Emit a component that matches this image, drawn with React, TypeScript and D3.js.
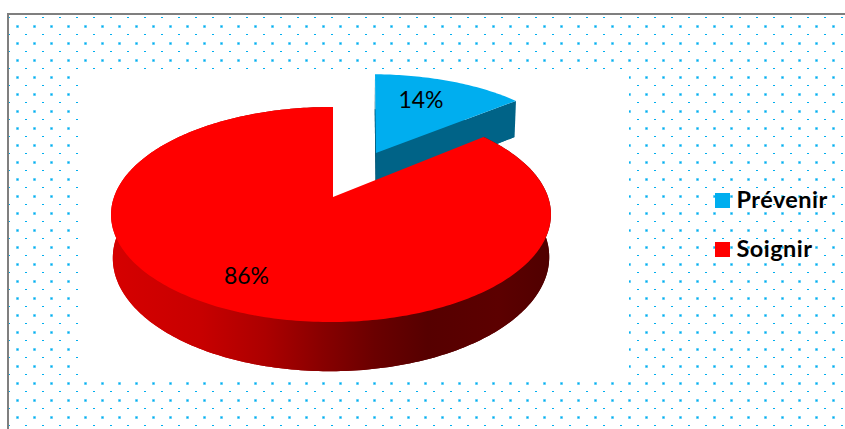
import React from 'react';
import * as d3 from 'd3';

// Share of effort, in percent, for each option.
const categories = ['Prévenir', 'Soignir'];
const shares = [14, 86];
const topColors = ['#00AEEF', '#FF0000'];

const WIDTH = 845;
const HEIGHT = 429;

// Oblique projection of the pie disc onto the page.
const CX = 333;
const CY = 197;
const RX = 217;
const RY = 104.65;
const PERSPECTIVE = 0.163;
const SIDE_PERSPECTIVE = 0.009;
const DEPTH = 42;
const FLOOR_SCALE = 0.992;
const EXPLODE = 0.5;
const EXPLODE_SHEAR = 0.06;

type Pt = [number, number];

function project(u: number, v: number, lower: boolean): Pt {
  const w = 1 - PERSPECTIVE * v + SIDE_PERSPECTIVE * u;
  const s = lower ? FLOOR_SCALE : 1;
  return [
    CX + (s * RX * u) / w,
    CY + (s * RY * v) / w + (lower ? DEPTH / w : 0),
  ];
}

const line = d3.line<Pt>();
const pie = d3.pie<number>().sort(null).value((d) => d);
const arcs = pie(shares);

function arcPoints(a0: number, a1: number, ou: number, ov: number, lower: boolean, map: (p: Pt, top: Pt) => Pt): Pt[] {
  const n = Math.max(2, Math.ceil((a1 - a0) / (Math.PI / 180)));
  return d3.range(n + 1).map((i) => {
    const a = a0 + ((a1 - a0) * i) / n;
    const u = ou + Math.sin(a);
    const v = ov - Math.cos(a);
    return map(project(u, v, lower), project(u, v, false));
  });
}

const identity = (p: Pt): Pt => p;

// Red slice stays at the centre.
const red = arcs[1];
const redTop = arcPoints(red.startAngle, red.endAngle, 0, 0, false, identity);
const redFloor = arcPoints(red.startAngle, red.endAngle, 0, 0, true, identity);
const redApex = project(0, 0, false);
const redFloorApex = project(0, 0, true);

// Blue slice is pulled out along its bisector.
const blue = arcs[0];
const mid = (blue.startAngle + blue.endAngle) / 2;
const bu = EXPLODE * Math.sin(mid);
const bv = -EXPLODE * Math.cos(mid);
const blueApexTop = project(bu, bv, false);
const shear = (p: Pt, top: Pt): Pt => [p[0] + EXPLODE_SHEAR * (blueApexTop[1] - top[1]), p[1]];
const blueTop = arcPoints(blue.startAngle, blue.endAngle, bu, bv, false, shear);
const blueFloor = arcPoints(blue.startAngle, blue.endAngle, bu, bv, true, shear);
const blueFloorApex = project(bu, bv, true);

const dotsSmall = d3.range(8, WIDTH, 17).flatMap((x) => d3.range(17, HEIGHT, 17).map((y) => [x, y] as Pt));
const dotsSoft = d3.range(17, WIDTH, 17).flatMap((x) => d3.range(26, HEIGHT, 17).map((y) => [x, y] as Pt));

const rimStops = [
  [0, '#d60000'],
  [0.2, '#c80000'],
  [0.35, '#ac0000'],
  [0.48, '#880000'],
  [0.6, '#6a0000'],
  [0.72, '#560000'],
  [0.88, '#5c0000'],
  [1, '#500000'],
];

const labelFont = 'Lato, "Open Sans", sans-serif';

export default function App() {
  return (
    <svg
      width={WIDTH}
      height={HEIGHT}
      viewBox={`0 0 ${WIDTH} ${HEIGHT}`}
      style={{ position: 'fixed', left: 0, top: 0, display: 'block', background: '#fff' }}
    >
      <defs>
        <linearGradient id="rim" gradientUnits="userSpaceOnUse" x1={111} x2={551} y1={0} y2={0}>
          {rimStops.map(([o, c]) => (
            <stop key={String(o)} offset={o as number} stopColor={c as string} />
          ))}
        </linearGradient>
      </defs>

      {/* Dotted chart background */}
      <g>
        {dotsSmall.map(([x, y]) => (
          <rect key={`s${x}-${y}`} x={x} y={y} width={2} height={1} fill="#00AEEF" />
        ))}
        {dotsSoft.map(([x, y]) => (
          <g key={`b${x}-${y}`}>
            <rect x={x - 1} y={y - 1} width={3} height={3} fill="#00AEEF" opacity={0.4} />
            <rect x={x - 0.4} y={y - 0.4} width={1.8} height={1.8} fill="#00AEEF" />
          </g>
        ))}
      </g>

      {/* Chart frame: only the top and left edges fall inside the page */}
      <rect x={7} y={13} width={WIDTH - 7} height={2} fill="#7f7f7f" />
      <rect x={7} y={13} width={2} height={HEIGHT - 13} fill="#7f7f7f" />

      {/* Plot area */}
      <rect x={79} y={70} width={550} height={310} fill="#fff" />

      {/* Blue slice */}
      <path d={`${line([blueFloorApex, ...blueFloor])}Z`} fill="#006387" />
      <path
        d={`${line([blueApexTop, blueTop[blueTop.length - 1], blueFloor[blueFloor.length - 1], blueFloorApex])}Z`}
        fill="#006387"
      />
      <path
        d={`${line([blueApexTop, blueTop[0], blueFloor[0], blueFloorApex])}Z`}
        fill="#004f6c"
      />
      <path d={`${line([blueApexTop, ...blueTop])}Z`} fill={topColors[0]} />

      {/* Red slice: rim, then top face */}
      <path d={`${line([redFloorApex, ...redFloor])}Z`} fill="url(#rim)" />
      <path d={`${line([...redTop, ...[...redFloor].reverse()])}Z`} fill="url(#rim)" />
      <path d={`${line([redApex, ...redTop])}Z`} fill={topColors[1]} />

      {/* Value labels */}
      <g fontFamily={labelFont} fontSize={23} fill="#000" textAnchor="middle">
        <text x={421} y={108}>{`${shares[0]}%`}</text>
        <text x={246.5} y={284}>{`${shares[1]}%`}</text>
      </g>

      {/* Legend */}
      <g fontFamily={labelFont} fontSize={23.5} fontWeight={700} letterSpacing={0.45} fill="#000">
        {categories.map((c, i) => (
          <g key={c}>
            <rect x={715} y={193 + i * 49} width={15} height={15} fill={topColors[i]} />
            <text x={736.5} y={208 + i * 49}>{c}</text>
          </g>
        ))}
      </g>
    </svg>
  );
}
